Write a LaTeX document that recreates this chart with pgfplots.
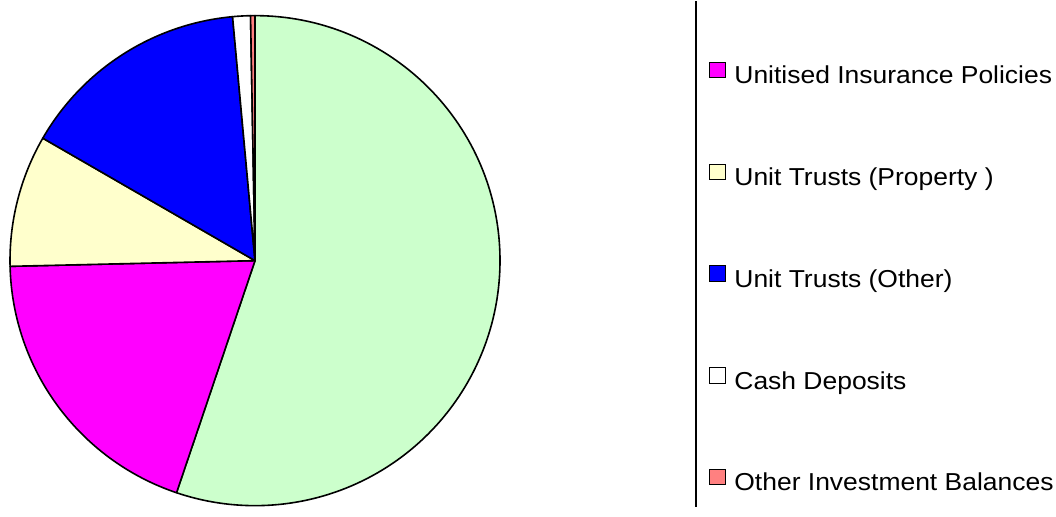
\documentclass[border=0pt]{standalone}
\usepackage{fontspec}
\setmainfont{Liberation Sans}[FakeStretch=1.08]
\usepackage{pgfplots}
\pgfplotsset{compat=1.18}

\definecolor{pieGreen}{RGB}{204,255,204}
\definecolor{pieMagenta}{RGB}{255,0,255}
\definecolor{pieYellow}{RGB}{255,255,204}
\definecolor{pieBlue}{RGB}{0,0,255}
\definecolor{pieRed}{RGB}{255,128,128}

% shares in percent, clockwise from 12 o'clock
\def\shGreen{55.19}
\def\shMagenta{19.44}
\def\shYellow{8.70}
\def\shBlue{15.21}
\def\shWhite{1.17}
\def\shRed{0.29}

\pgfmathsetmacro\aA{90}
\pgfmathsetmacro\aB{\aA-3.6*\shGreen}
\pgfmathsetmacro\aC{\aB-3.6*\shMagenta}
\pgfmathsetmacro\aD{\aC-3.6*\shYellow}
\pgfmathsetmacro\aE{\aD-3.6*\shBlue}
\pgfmathsetmacro\aF{\aE-3.6*\shWhite}
\pgfmathsetmacro\aG{\aF-3.6*\shRed}

\def\pr{245bp}

\pgfplotsset{
  legend square/.style={legend image code/.code={
    \draw[fill=#1, draw=black, line width=0.9bp] (0bp,0bp) rectangle (15.5bp,15.5bp);}},
}
\tikzset{pieslice/.style={fill=#1, draw=black, line width=1.6bp, line join=round}}

\begin{document}
\begin{tikzpicture}
\begin{axis}[
  x=1bp, y=1bp,
  xmin=0, xmax=1056, ymin=0, ymax=506,
  hide axis, clip=false,
  legend cell align=left,
  legend style={
    at={(axis cs:709,444.7)}, anchor=north west,
    draw=none, fill=none, inner sep=0pt, outer sep=0pt,
    row sep=74.8bp,
    font=\fontsize{24.5bp}{29bp}\selectfont,
    nodes={inner sep=0pt, text height=17bp, text depth=5bp},
    /tikz/every odd column/.append style={column sep=9bp},
  },
]
\path (axis cs:0,0) rectangle (axis cs:1056,506);

\addlegendimage{legend square=pieMagenta}
\addlegendimage{legend square=pieYellow}
\addlegendimage{legend square=pieBlue}
\addlegendimage{legend square=white}
\addlegendimage{legend square=pieRed}
\legend{Unitised Insurance Policies, Unit Trusts (Property ), Unit Trusts (Other), Cash Deposits, Other Investment Balances}

\fill[pieslice=pieGreen]   (axis cs:255,246) -- ++(\aA:\pr) arc[start angle=\aA, end angle=\aB, radius=\pr] -- cycle;
\fill[pieslice=pieMagenta] (axis cs:255,246) -- ++(\aB:\pr) arc[start angle=\aB, end angle=\aC, radius=\pr] -- cycle;
\fill[pieslice=pieYellow]  (axis cs:255,246) -- ++(\aC:\pr) arc[start angle=\aC, end angle=\aD, radius=\pr] -- cycle;
\fill[pieslice=pieBlue]    (axis cs:255,246) -- ++(\aD:\pr) arc[start angle=\aD, end angle=\aE, radius=\pr] -- cycle;
\fill[pieslice=white]      (axis cs:255,246) -- ++(\aE:\pr) arc[start angle=\aE, end angle=\aF, radius=\pr] -- cycle;
\fill[pieslice=pieRed]     (axis cs:255,246) -- ++(\aF:\pr) arc[start angle=\aF, end angle=\aG, radius=\pr] -- cycle;

% left edge of the legend frame
\draw[line width=1.3bp] (axis cs:696,0) -- (axis cs:696,506);
\end{axis}
\end{tikzpicture}
\end{document}
